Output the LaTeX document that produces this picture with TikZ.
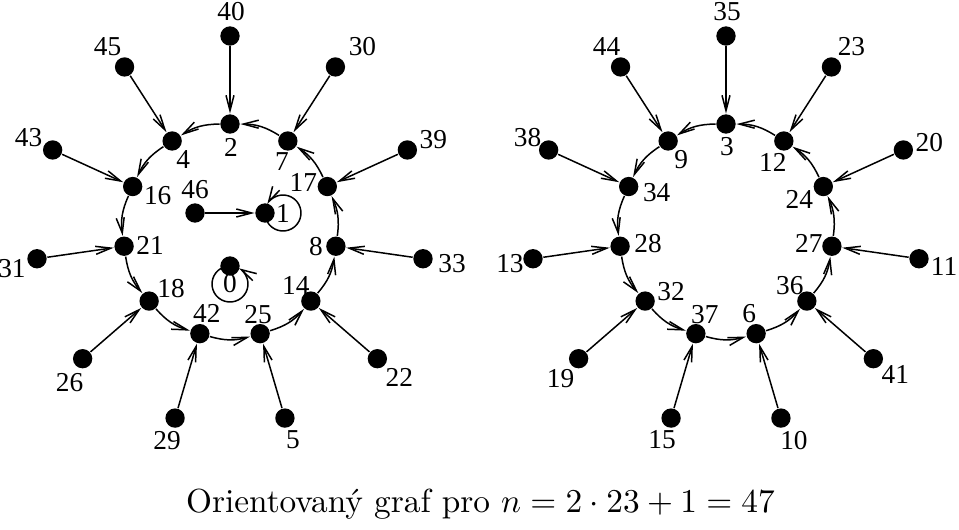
\documentclass[tikz,border=0pt]{standalone}
\usepackage{fontspec}
\newfontfamily\timesfont{Liberation Serif}
\usetikzlibrary{arrows.meta}
\tikzset{
  dot/.style={circle,fill=black,inner sep=0pt,minimum size=5.8pt},
  lbl/.style={font=\timesfont\fontsize{8.2}{10}\selectfont,inner sep=0pt},
}

\begin{document}
\begin{tikzpicture}[x=0.3pt,y=0.3pt,>={Straight Barb[length=4.6pt,width=2.4pt]},line width=0.45pt]
\useasboundingbox (0,0) rectangle (959,529);

% left component: cycle 2 -> 4 -> 16 -> ... -> 7 -> 2
\begin{scope}[shift={(230,298)}]
\node[dot,label={[lbl,shift={(1,-23)}]center:2}] (a2) at (90:107) {};
\node[dot,label={[lbl,shift={(11,-19)}]center:4}] (a4) at (122.73:107) {};
\node[dot,label={[lbl,shift={(25,-9)}]center:16}] (a16) at (155.45:107) {};
\node[dot,label={[lbl,shift={(26,1)}]center:21}] (a21) at (188.18:107) {};
\node[dot,label={[lbl,shift={(22,13)}]center:18}] (a18) at (220.91:107) {};
\node[dot,label={[lbl,shift={(7,20)}]center:42}] (a42) at (253.64:107) {};
\node[dot,label={[lbl,shift={(-2,19)}]center:25}] (a25) at (286.36:107) {};
\node[dot,label={[lbl,shift={(-15,16)}]center:14}] (a14) at (319.09:107) {};
\node[dot,label={[lbl,shift={(-20,0)}]center:8}] (a8) at (351.82:107) {};
\node[dot,label={[lbl,shift={(-24,4)}]center:17}] (a17) at (24.55:107) {};
\node[dot,label={[lbl,shift={(-6,-21)}]center:7}] (a7) at (57.27:107) {};

\node[dot,label={[lbl,shift={(1,24)}]center:40}] (a40) at (90:195) {};
\node[dot,label={[lbl,shift={(-17,20)}]center:45}] (a45) at (122.73:195) {};
\node[dot,label={[lbl,shift={(-24,12)}]center:43}] (a43) at (155.45:195) {};
\node[dot,label={[lbl,shift={(-25,-10)}]center:31}] (a31) at (188.18:195) {};
\node[dot,label={[lbl,shift={(-13,-24)}]center:26}] (a26) at (220.91:195) {};
\node[dot,label={[lbl,shift={(-8,-22)}]center:29}] (a29) at (253.64:195) {};
\node[dot,label={[lbl,shift={(8,-22)}]center:5}] (a5) at (286.36:195) {};
\node[dot,label={[lbl,shift={(22,-19)}]center:22}] (a22) at (319.09:195) {};
\node[dot,label={[lbl,shift={(29,-5)}]center:33}] (a33) at (351.82:195) {};
\node[dot,label={[lbl,shift={(26,10)}]center:39}] (a39) at (24.55:195) {};
\node[dot,label={[lbl,shift={(27,20)}]center:30}] (a30) at (57.27:195) {};

\node[dot,label={[lbl,shift={(0,23)}]center:46}] (a46) at (-35,18) {};
\node[dot] (a1) at (35,18) {};
\node[dot] (a0) at (0,-35) {};
\end{scope}

\node[lbl] (c1) at ([shift={(18,0)}]a1.center) {1};
\node[lbl] (c0) at ([shift={(0,-18)}]a0.center) {0};
\draw[->] ([shift={(209:18)}]c1.center) arc[start angle=209,end angle=511,radius=18];
\draw[->] ([shift={(119:18)}]c0.center) arc[start angle=119,end angle=421,radius=18];
\draw[->] (a46) -- (a1);

\draw[->] (a2) to[bend right=16] (a4);
\draw[->] (a4) to[bend right=16] (a16);
\draw[->] (a16) to[bend right=16] (a21);
\draw[->] (a21) to[bend right=16] (a18);
\draw[->] (a18) to[bend right=16] (a42);
\draw[->] (a42) to[bend right=16] (a25);
\draw[->] (a25) to[bend right=16] (a14);
\draw[->] (a14) to[bend right=16] (a8);
\draw[->] (a8) to[bend right=16] (a17);
\draw[->] (a17) to[bend right=16] (a7);
\draw[->] (a7) to[bend right=16] (a2);

\draw[->] (a40) -- (a2);
\draw[->] (a45) -- (a4);
\draw[->] (a43) -- (a16);
\draw[->] (a31) -- (a21);
\draw[->] (a26) -- (a18);
\draw[->] (a29) -- (a42);
\draw[->] (a5) -- (a25);
\draw[->] (a22) -- (a14);
\draw[->] (a33) -- (a8);
\draw[->] (a39) -- (a17);
\draw[->] (a30) -- (a7);

% right component: cycle 3 -> 9 -> 34 -> ... -> 12 -> 3
\begin{scope}[shift={(726,298)}]
\node[dot,label={[lbl,shift={(1,-23)}]center:3}] (b3) at (90:107) {};
\node[dot,label={[lbl,shift={(13,-19)}]center:9}] (b9) at (122.73:107) {};
\node[dot,label={[lbl,shift={(28,-6)}]center:34}] (b34) at (155.45:107) {};
\node[dot,label={[lbl,shift={(28,3)}]center:28}] (b28) at (188.18:107) {};
\node[dot,label={[lbl,shift={(26,9)}]center:32}] (b32) at (220.91:107) {};
\node[dot,label={[lbl,shift={(9,19)}]center:37}] (b37) at (253.64:107) {};
\node[dot,label={[lbl,shift={(-7,20)}]center:6}] (b6) at (286.36:107) {};
\node[dot,label={[lbl,shift={(-17,15)}]center:36}] (b36) at (319.09:107) {};
\node[dot,label={[lbl,shift={(-23,3)}]center:27}] (b27) at (351.82:107) {};
\node[dot,label={[lbl,shift={(-24,-13)}]center:24}] (b24) at (24.55:107) {};
\node[dot,label={[lbl,shift={(-11,-21)}]center:12}] (b12) at (57.27:107) {};

\node[dot,label={[lbl,shift={(1,24)}]center:35}] (b35) at (90:195) {};
\node[dot,label={[lbl,shift={(-14,20)}]center:44}] (b44) at (122.73:195) {};
\node[dot,label={[lbl,shift={(-21,12)}]center:38}] (b38) at (155.45:195) {};
\node[dot,label={[lbl,shift={(-23,-5)}]center:13}] (b13) at (188.18:195) {};
\node[dot,label={[lbl,shift={(-18,-20)}]center:19}] (b19) at (220.91:195) {};
\node[dot,label={[lbl,shift={(-9,-22)}]center:15}] (b15) at (253.64:195) {};
\node[dot,label={[lbl,shift={(13,-22)}]center:10}] (b10) at (286.36:195) {};
\node[dot,label={[lbl,shift={(22,-16)}]center:41}] (b41) at (319.09:195) {};
\node[dot,label={[lbl,shift={(25,-8)}]center:11}] (b11) at (351.82:195) {};
\node[dot,label={[lbl,shift={(26,7)}]center:20}] (b20) at (24.55:195) {};
\node[dot,label={[lbl,shift={(20,20)}]center:23}] (b23) at (57.27:195) {};
\end{scope}

\draw[->] (b3) to[bend right=16] (b9);
\draw[->] (b9) to[bend right=16] (b34);
\draw[->] (b34) to[bend right=16] (b28);
\draw[->] (b28) to[bend right=16] (b32);
\draw[->] (b32) to[bend right=16] (b37);
\draw[->] (b37) to[bend right=16] (b6);
\draw[->] (b6) to[bend right=16] (b36);
\draw[->] (b36) to[bend right=16] (b27);
\draw[->] (b27) to[bend right=16] (b24);
\draw[->] (b24) to[bend right=16] (b12);
\draw[->] (b12) to[bend right=16] (b3);

\draw[->] (b35) -- (b3);
\draw[->] (b44) -- (b9);
\draw[->] (b38) -- (b34);
\draw[->] (b13) -- (b28);
\draw[->] (b19) -- (b32);
\draw[->] (b15) -- (b37);
\draw[->] (b10) -- (b6);
\draw[->] (b41) -- (b36);
\draw[->] (b11) -- (b27);
\draw[->] (b20) -- (b24);
\draw[->] (b23) -- (b12);

\node[anchor=base] (title) at (480.5,17) {Orientovaný graf pro $n=2\cdot 23+1=47$};
\end{tikzpicture}
\end{document}
